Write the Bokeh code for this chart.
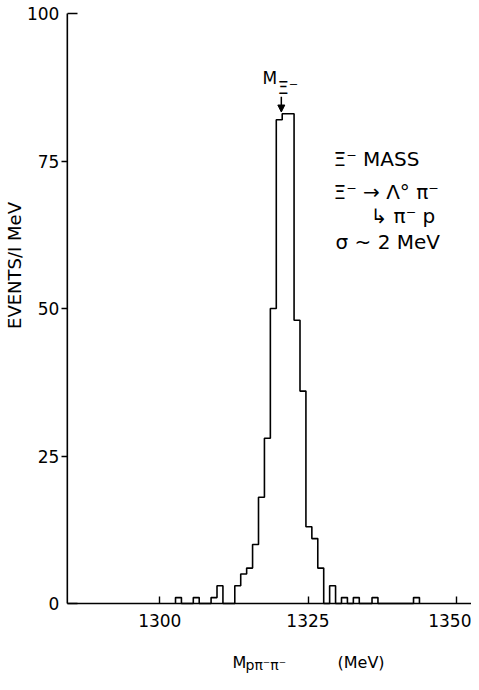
import math
from bokeh.plotting import figure
from bokeh.models import Range1d, FixedTicker, Label, Arrow, NormalHead, LinearAxis
from bokeh.embed import file_html
from bokeh.resources import INLINE

# ---- data ----
bin_left = [1302.65, 1305.65, 1308.65, 1309.65, 1312.65, 1313.65, 1314.65, 1315.65,
            1316.65, 1317.65, 1318.65, 1319.65, 1320.65, 1321.65, 1322.65, 1323.65,
            1324.65, 1325.65, 1326.65, 1328.65, 1330.65, 1332.65, 1335.8, 1342.8]
counts = [1, 1, 1, 3, 3, 5, 6, 10,
          18, 28, 50, 82, 83, 83, 48, 36,
          13, 11, 6, 3, 1, 1, 1, 1]
bin_width = 1.0
x_ticks = [1300, 1325, 1350]
y_ticks_out = [25, 50, 75]     # ticks drawn outward
y_ticks_in = [0, 100]          # ticks drawn inward (top one points into the plot)
xi_mass_mark = 1320.5
x_axis_start = 1284.4

FONT = "DejaVu Sans"
W, H = 471, 674
PXM = 5.928          # px per MeV
PXC = 5.9            # px per count
X_START = 1300 - 159.3 / PXM
X_END = X_START + W / PXM
Y_TOP = 100 + 13 / PXC
Y_BOTTOM = Y_TOP - H / PXC


def at(fx, fy):
    """figure-pixel position -> data coordinates (for text placement)"""
    return X_START + fx / PXM, Y_TOP - fy / PXC


p = figure(width=W, height=H, output_backend="svg", toolbar_location=None,
           x_range=Range1d(X_START, X_END), y_range=Range1d(Y_BOTTOM, Y_TOP),
           min_border=0, min_border_left=0, min_border_right=0,
           min_border_top=0, min_border_bottom=0)
p.outline_line_color = None
p.xgrid.visible = False
p.ygrid.visible = False
p.background_fill_color = "white"
p.border_fill_color = "white"

# axes drawn at fixed data locations
y_in_axis = LinearAxis(fixed_location=x_axis_start)
p.add_layout(y_in_axis, "left")
p.xaxis.fixed_location = 0
p.yaxis[0].fixed_location = x_axis_start
p.xaxis.ticker = FixedTicker(ticks=x_ticks)
p.yaxis[0].ticker = FixedTicker(ticks=y_ticks_out)
y_in_axis.ticker = FixedTicker(ticks=y_ticks_in)
for ax in (p.xaxis[0], p.yaxis[0], y_in_axis):
    ax.axis_line_color = None
    ax.major_tick_line_color = "black"
    ax.major_tick_line_width = 1.4
    ax.minor_tick_line_color = None
    ax.major_label_text_font = FONT
    ax.major_label_text_font_size = "17px"
    ax.major_label_text_color = "black"
    ax.major_label_text_font_style = "normal"
p.xaxis.major_tick_in = 7
p.xaxis.major_tick_out = 0
p.xaxis.major_label_standoff = 10
p.yaxis[0].major_tick_in = 0
p.yaxis[0].major_tick_out = 6
p.yaxis[0].major_label_standoff = 2
y_in_axis.major_tick_in = 10
y_in_axis.major_tick_out = 0
y_in_axis.major_label_standoff = 8

# axis lines (only over the plotted extent)
p.segment(x0=[x_axis_start, x_axis_start], y0=[0, 0],
          x1=[x_axis_start, X_END], y1=[y_ticks_in[-1], 0],
          line_color="black", line_width=1.6)

# histogram outline built from the bins
px, py = [], []
prev_end = None
for L, c in zip(bin_left, counts):
    R = L + bin_width
    if prev_end is None or abs(L - prev_end) > 1e-6:
        if prev_end is not None:
            px.append(prev_end); py.append(0)
        px += [L, L]; py += [0, c]
    else:
        px.append(L); py.append(c)
    px.append(R); py.append(c)
    prev_end = R
px.append(prev_end); py.append(0)
p.line(px, py, line_color="black", line_width=1.6)

# M_Xi arrow
peak = max(counts)
p.add_layout(Arrow(end=NormalHead(size=7, fill_color="black", line_color="black", line_width=1),
                   x_start=xi_mass_mark, y_start=peak + 2.9,
                   x_end=xi_mass_mark, y_end=peak + 0.3,
                   line_color="black", line_width=1.5))


def lab(fx, fy, text, size, **kw):
    kw.setdefault("text_baseline", "middle")
    x, y = at(fx, fy)
    p.add_layout(Label(x=x, y=y, text=text, text_font=FONT,
                       text_font_size=f"{size}px", text_color="black", **kw))


lab(262, 77.1, "M", 17)
lab(277, 86.8, "Ξ⁻", 18)

lab(333, 158.1, "Ξ⁻ MASS", 20)
lab(333, 191.1, "Ξ⁻ → Λ° π⁻", 20)
lab(370, 215.1, "↳ π⁻ p", 20)
lab(335, 241.1, "σ ~ 2 MeV", 20)

# axis titles
lab(14, 265, "EVENTS/I MeV", 18, angle=math.pi / 2,
    text_align="center", text_baseline="middle")
lab(232, 661.5, "M", 16)
lab(245, 664.5, "pπ⁻π⁻", 14)
lab(337, 661.5, "(MeV)", 16)

open("out.html", "w").write(file_html(p, INLINE))
